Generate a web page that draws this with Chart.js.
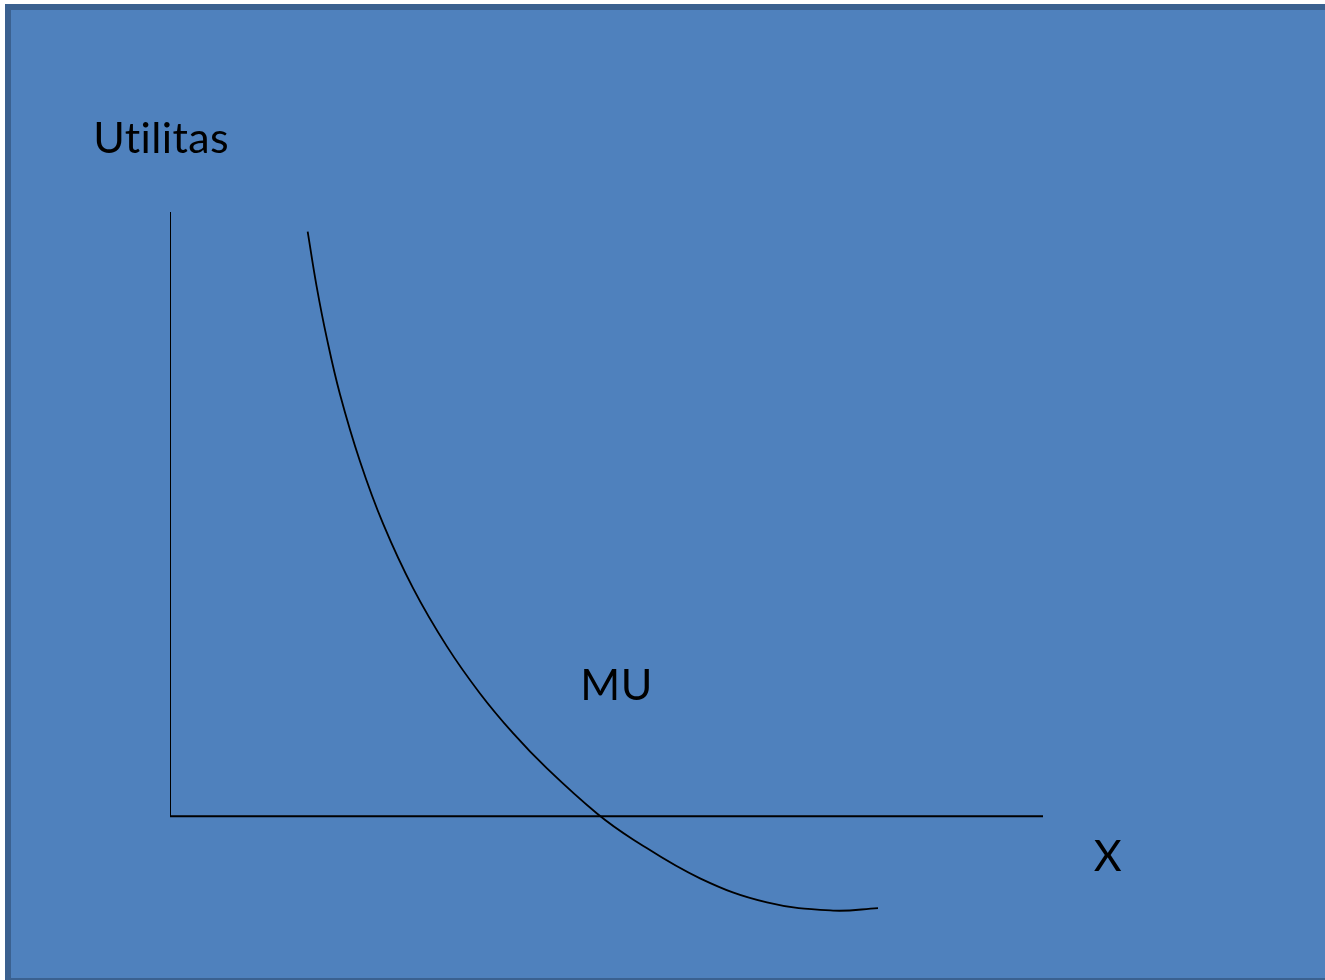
<!DOCTYPE html>
<html>
<head>
<meta charset="utf-8">
<script src="https://cdn.jsdelivr.net/npm/chart.js@4.4.1/dist/chart.umd.min.js"></script>
<style>
  html, body { margin: 0; padding: 0; background: #fff; overflow: hidden; }
  #wrap { position: absolute; left: 0; top: 0; width: 1325px; height: 980px; }
</style>
</head>
<body>
<div id="wrap"><canvas id="mu"></canvas></div>
<script>
// marginal utility curve (x = quantity, y = utility)
const muX = [1.577, 1.680, 1.795, 1.947, 2.176, 2.443, 2.787, 3.170, 3.551, 3.932, 4.315, 4.891, 5.304, 6.071, 6.838, 7.595, 8.110];
const muY = [9.674, 8.765, 7.921, 6.985, 5.876, 4.834, 3.767, 2.816, 2.033, 1.371, 0.796, 0.046, -0.382, -1.026, -1.425, -1.560, -1.520];

// axes of the sketch
const axisHX = [0, 10], axisHY = [0, 0];
const axisVX = [0, 0], axisVY = [0, 10];

const labels = ["Utilitas", "MU", "X"];

const pts = (xs, ys) => xs.map((x, i) => ({ x: x, y: ys[i] }));

// blue slide background + the three text labels
const slide = {
  id: 'slide',
  beforeDraw(chart) {
    const c = chart.ctx;
    c.save();
    c.fillStyle = '#ffffff';
    c.fillRect(0, 0, chart.width, chart.height);
    c.fillStyle = '#3b6190';
    c.fillRect(5, 4, chart.width, chart.height);
    c.fillStyle = '#4f81bd';
    c.fillRect(11, 10, chart.width, chart.height - 12);
    c.restore();
  },
  afterDraw(chart) {
    const c = chart.ctx, xs = chart.scales.x, ys = chart.scales.y;
    c.save();
    c.fillStyle = '#000';
    c.font = '43px Lato';
    c.letterSpacing = '0.4px';
    c.textBaseline = 'alphabetic';
    c.fillText(labels[0], xs.getPixelForValue(-0.88), ys.getPixelForValue(10.98));
    c.fillText(labels[1], xs.getPixelForValue(4.70), ys.getPixelForValue(1.92));
    c.fillText(labels[2], xs.getPixelForValue(10.58), ys.getPixelForValue(-0.91));
    c.restore();
  }
};

new Chart(document.getElementById('mu'), {
  type: 'scatter',
  data: {
    datasets: [
      { data: pts(axisHX, axisHY), showLine: true, borderColor: '#000', borderWidth: 2, pointRadius: 0 },
      { data: pts(axisVX, axisVY), showLine: true, borderColor: '#000', borderWidth: 2, pointRadius: 0 },
      { data: pts(muX, muY), showLine: true, borderColor: '#000', borderWidth: 1.8, pointRadius: 0,
        tension: 0.4, clip: false }
    ]
  },
  options: {
    responsive: true,
    maintainAspectRatio: false,
    animation: false,
    layout: { padding: { left: 170, right: 282, top: 212, bottom: 67 } },
    plugins: { legend: { display: false }, tooltip: { enabled: false } },
    scales: {
      x: { type: 'linear', min: 0, max: 10, display: false },
      y: { type: 'linear', min: -1.6, max: 10, display: false }
    }
  },
  plugins: [slide]
});
</script>
</body>
</html>
